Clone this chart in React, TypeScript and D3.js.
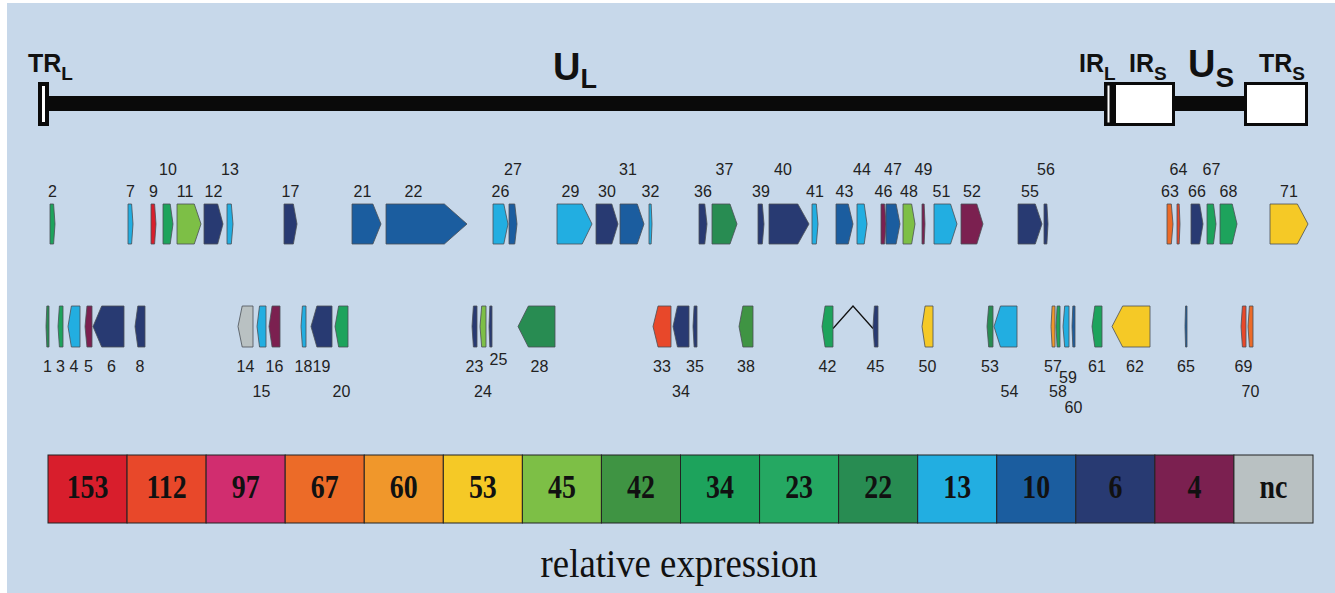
import React from "react";
import * as d3 from "d3";

// ---- legend: relative expression classes ----
const exprKeys = ["153", "112", "97", "67", "60", "53", "45", "42", "34", "23", "22", "13", "10", "6", "4", "nc"];
const exprColors = [
  "#d81e2c", "#e8482a", "#d12d6f", "#ec6b28", "#f0972b", "#f5c926", "#7dbf46", "#3f9443",
  "#1da35c", "#25a862", "#288c52", "#22aee1", "#1b5d9f", "#283a72", "#7b2050", "#b9c1c2",
];

// ---- genome regions ----
const regionLabels = ["TR", "U", "IR", "IR", "U", "TR"];
const regionSubs = ["L", "L", "L", "S", "S", "S"];

// ---- genes: [id, start, end, expression class, label level] ----
// upper row: forward strand
const genesTop: [string, number, number, string, number][] = [
  ["2", 10, 15, "34", 1],
  ["7", 88, 93, "13", 1],
  ["9", 111, 116, "153", 1],
  ["10", 123, 133, "34", 2],
  ["11", 137, 161, "45", 1],
  ["12", 164, 183, "6", 1],
  ["13", 187, 193, "13", 2],
  ["17", 244, 257, "6", 1],
  ["21", 312, 341, "10", 1],
  ["22", 346, 427, "10", 1],
  ["26", 453, 468, "13", 1],
  ["27", 469, 477, "10", 2],
  ["29", 517, 552, "13", 1],
  ["30", 556, 578, "6", 1],
  ["31", 580, 604, "10", 2],
  ["32", 609, 612, "13", 1],
  ["36", 659, 667, "6", 1],
  ["37", 672, 697, "22", 2],
  ["39", 718, 724, "6", 1],
  ["40", 729, 769, "6", 2],
  ["41", 772, 778, "13", 1],
  ["43", 796, 813, "10", 1],
  ["44", 817, 827, "13", 2],
  ["46", 841, 846, "4", 1],
  ["47", 846, 860, "10", 2],
  ["48", 863, 875, "45", 1],
  ["49", 882, 885, "4", 2],
  ["51", 894, 917, "13", 1],
  ["52", 921, 943, "4", 1],
  ["55", 978, 1002, "6", 1],
  ["56", 1004, 1008, "6", 2],
  ["63", 1127, 1133, "67", 1],
  ["64", 1137, 1140, "112", 2],
  ["66", 1151, 1163, "6", 1],
  ["67", 1167, 1176, "34", 2],
  ["68", 1180, 1197, "34", 1],
  ["71", 1230, 1268, "53", 1],
];

// lower row: reverse strand
const genesBottom: [string, number, number, string, number][] = [
  ["1", 6, 9, "22", 1],
  ["3", 18, 23, "34", 1],
  ["4", 28, 40, "13", 1],
  ["5", 45, 52, "4", 1],
  ["6", 53, 84, "6", 1],
  ["8", 95, 105, "6", 1],
  ["14", 198, 213, "nc", 1],
  ["15", 217, 226, "13", 2],
  ["16", 229, 240, "4", 1],
  ["18", 261, 266, "13", 1],
  ["19", 271, 292, "6", 1],
  ["20", 295, 308, "34", 2],
  ["23", 432, 437, "6", 1],
  ["24", 440, 446, "45", 2],
  ["25", 449, 452, "6", 0],
  ["28", 478, 515, "22", 1],
  ["33", 613, 631, "112", 1],
  ["34", 633, 649, "6", 2],
  ["35", 653, 657, "6", 1],
  ["38", 699, 713, "42", 1],
  ["42", 782, 793, "34", 1],
  ["45", 833, 838, "6", 1],
  ["50", 882, 893, "53", 1],
  ["53", 947, 953, "22", 1],
  ["54", 954, 977, "13", 2],
  ["57", 1011, 1015, "60", 1],
  ["58", 1016, 1020, "34", 2],
  ["59", 1023, 1029, "13", 4],
  ["60", 1032, 1035, "10", 3],
  ["61", 1052, 1062, "34", 1],
  ["62", 1072, 1110, "53", 1],
  ["65", 1145, 1147, "10", 1],
  ["69", 1201, 1206, "112", 1],
  ["70", 1208, 1213, "67", 2],
];

// spliced pair
const spliced = ["42", "45"];

const labelNudge: Record<string, number> = { "11": -4, "21": -4, "22": -13, "29": -4, "31": -4, "40": -6, "51": -4, "25": 8, "6": 3, "28": 3, "54": 4, "62": 4, "59": 2 };

const W = 1335;
const H = 593;

export default function App() {
  const x = d3.scaleLinear().domain([0, 1300]).range([40, 1340]);
  const color = d3.scaleOrdinal<string, string>().domain(exprKeys).range(exprColors);
  const legendX = d3.scaleBand<string>().domain(exprKeys).range([48, 1313]);

  const topY0 = 204, topY1 = 244;
  const botY0 = 306, botY1 = 347;
  const topBase: Record<number, number> = { 1: 197, 2: 175 };
  const botBase: Record<number, number> = { 0: 365, 1: 372, 4: 383, 2: 397, 3: 413 };

  const arrow = (x0: number, x1: number, y0: number, y1: number, fwd: boolean) => {
    const w = x1 - x0;
    const tip = w * 0.28;
    const ym = (y0 + y1) / 2;
    const pts: [number, number][] = fwd
      ? [[x0, y0], [x1 - tip, y0], [x1, ym], [x1 - tip, y1], [x0, y1]]
      : [[x1, y0], [x0 + tip, y0], [x0, ym], [x0 + tip, y1], [x1, y1]];
    return d3.line()(pts) + "Z";
  };

  const sans = "'Liberation Sans', Arial, sans-serif";
  const serif = "'Liberation Serif', 'Times New Roman', serif";

  const g42 = genesBottom.find((g) => g[0] === spliced[0])!;
  const g45 = genesBottom.find((g) => g[0] === spliced[1])!;
  const sx0 = x(g42[2]);
  const sx1 = x(g45[1]);
  const sym = (botY0 + botY1) / 2 + 2;

  // genome boxes
  const trl = [x(-2), x(9)];
  const irl = [x(1064), x(1073)];
  const irs = [x(1073), x(1135)];
  const trs = [x(1204), x(1268)];
  const boxY0 = 82, boxY1 = 126;

  const box = (b: number[], sw: number, key: string) => (
    <rect key={key} x={b[0] + sw / 2} y={boxY0 + sw / 2} width={b[1] - b[0] - sw} height={boxY1 - boxY0 - sw} fill="#ffffff" stroke="#0a0a0a" strokeWidth={sw} />
  );

  return (
    <svg width={W} height={H} style={{ position: "absolute", left: 0, top: 0 }} xmlns="http://www.w3.org/2000/svg">
      <rect x={0} y={0} width={W} height={H} fill="#ffffff" />
      <rect x={7} y={3} width={W - 7} height={H - 3} fill="#c7d8ea" />

      {/* genome line */}
      <rect x={trl[1] - 1} y={96} width={irl[0] - trl[1] + 2} height={15} fill="#0a0a0a" />
      <rect x={irs[1] - 1} y={96} width={trs[0] - irs[1] + 2} height={15} fill="#0a0a0a" />
      {box(trl, 4, "trl")}
      {box(irl, 3.5, "irl")}
      {box(irs, 3, "irs")}
      {box(trs, 3, "trs")}

      {/* region labels */}
      <g fontFamily={sans} fontWeight="bold" fill="#111">
        <text x={28} y={72} fontSize={25}>{regionLabels[0]}<tspan fontSize={19} dy={8}>{regionSubs[0]}</tspan></text>
        <text x={553} y={80} fontSize={38}>{regionLabels[1]}<tspan fontSize={27} dy={8}>{regionSubs[1]}</tspan></text>
        <text x={1079} y={72} fontSize={25}>{regionLabels[2]}<tspan fontSize={19} dy={8}>{regionSubs[2]}</tspan></text>
        <text x={1129} y={72} fontSize={25}>{regionLabels[3]}<tspan fontSize={19} dy={8}>{regionSubs[3]}</tspan></text>
        <text x={1188} y={77} fontSize={38}>{regionLabels[4]}<tspan fontSize={28} dy={10}>{regionSubs[4]}</tspan></text>
        <text x={1259} y={72} fontSize={25}>{regionLabels[5]}<tspan fontSize={19} dy={8}>{regionSubs[5]}</tspan></text>
      </g>

      {/* splice connector */}
      <polyline
        points={`${sx0},${sym} ${(sx0 + sx1) / 2},${botY0} ${sx1},${sym}`}
        fill="none"
        stroke="#111"
        strokeWidth={1.3}
      />

      {/* genes top */}
      {genesTop.map(([id, s, e, c, lv]) => (
        <g key={"t" + id}>
          <path d={arrow(x(s), x(e), topY0, topY1, true)} fill={color(c)} stroke="#4a4f55" strokeWidth={0.8} />
          <text x={(x(s) + x(e)) / 2 + (labelNudge[id] || 0)} y={topBase[lv]} fontFamily={sans} fontSize={16} textAnchor="middle" fill="#222">{id}</text>
        </g>
      ))}

      {/* genes bottom */}
      {genesBottom.map(([id, s, e, c, lv]) => (
        <g key={"b" + id}>
          <path d={arrow(x(s), x(e), botY0, botY1, false)} fill={color(c)} stroke="#4a4f55" strokeWidth={0.8} />
          <text x={(x(s) + x(e)) / 2 + (labelNudge[id] || 0)} y={botBase[lv]} fontFamily={sans} fontSize={16} textAnchor="middle" fill="#222">{id}</text>
        </g>
      ))}

      {/* legend */}
      {exprKeys.map((k) => {
        const cx = legendX(k)! + legendX.bandwidth() / 2;
        return (
          <g key={"l" + k}>
            <rect x={legendX(k)!} y={455} width={legendX.bandwidth()} height={68} fill={color(k)} stroke="#222" strokeWidth={1} />
            <text transform={`translate(${cx},${498}) scale(0.82,1)`} fontFamily={serif} fontWeight="bold" fontSize={34} textAnchor="middle" fill="#111">{k}</text>
          </g>
        );
      })}
      <text transform={`translate(679,577) scale(0.92,1)`} fontFamily={serif} fontSize={40} textAnchor="middle" fill="#111">relative expression</text>
    </svg>
  );
}
